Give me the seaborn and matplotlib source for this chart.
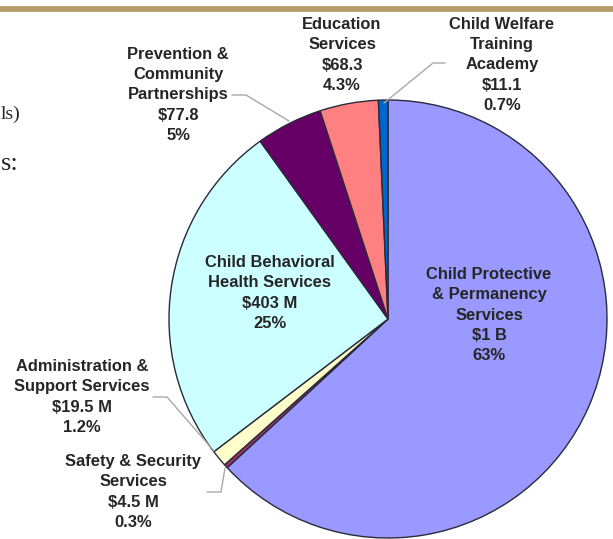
import matplotlib
matplotlib.use("Agg")
import matplotlib.pyplot as plt
import seaborn as sns

# ---- data ----
categories = [
    "Child Protective\n& Permanency\nServices",
    "Safety & Security\nServices",
    "Administration &\nSupport Services",
    "Child Behavioral\nHealth Services",
    "Prevention &\nCommunity\nPartnerships",
    "Education\nServices",
    "Child Welfare\nTraining\nAcademy",
]
amounts_millions = [1000, 4.5, 19.5, 403, 77.8, 68.3, 11.1]
amount_labels = ["$1 B", "$4.5 M", "$19.5 M", "$403 M", "$77.8", "$68.3", "$11.1"]
pct_labels = ["63%", "0.3%", "1.2%", "25%", "5%", "4.3%", "0.7%"]
slice_colors = ["#9999FF", "#993366", "#FFFFCC", "#CCFFFF", "#660066", "#FF8080", "#0066CC"]

sns.set_theme(style="white")
plt.rcParams["font.family"] = ["Liberation Sans", "DejaVu Sans"]

W, H = 613, 539
fig = plt.figure(figsize=(W / 100, H / 100), dpi=100)
ax = fig.add_axes([0, 0, 1, 1])

palette = sns.color_palette(slice_colors)

def Y(y):  # pixel (top-origin) -> data
    return H - y

cx, cy, r = 388, 319, 219
ax.pie(amounts_millions, colors=palette, startangle=90, counterclock=False,
       center=(cx, Y(cy)), radius=r,
       wedgeprops=dict(edgecolor="#2a2a3a", linewidth=1.0))
ax.set_xlim(0, W)
ax.set_ylim(0, H)
ax.set_aspect("equal")
ax.axis("off")

# top rule
ax.plot([0, W], [Y(8.5), Y(8.5)], color="#B49C6C", lw=4.2, solid_capstyle="butt")

# cropped document text at left edge
ax.text(1, Y(114), "ls)", fontsize=14, family=["Liberation Serif"], color="#222",
        ha="left", va="center")
ax.text(1, Y(164), "s:", fontsize=19, family=["Liberation Serif"], color="#222",
        ha="left", va="center")

fs = 11.9
ls = 1.42
tcol = "#262626"

def lab(i):
    return f"{categories[i]}\n{amount_labels[i]}\n{pct_labels[i]}"

positions = {
    0: (489, 315),
    1: (133, 492),
    2: (82, 397),
    3: (270, 293),
    4: (178, 95),
    5: (342, 55),
    6: (502, 65),
}
for i, (x, y) in positions.items():
    ax.text(x, Y(y), lab(i), ha="center", va="center", fontsize=fs,
            fontweight="bold", color=tcol, linespacing=ls)

lc = "#A8A8A8"
leaders = [
    [(232, 95), (246, 95), (289, 121)],   # prevention
    [(445, 63), (433, 63), (384, 103)],   # academy
    [(153, 397), (167, 397), (214, 451)], # admin
    [(207, 492), (221, 492), (225, 468)], # safety
]
for pts in leaders:
    xs = [p[0] for p in pts]
    ys = [Y(p[1]) for p in pts]
    ax.plot(xs, ys, color=lc, lw=1.0)

fig.savefig("out.png", dpi=100)
